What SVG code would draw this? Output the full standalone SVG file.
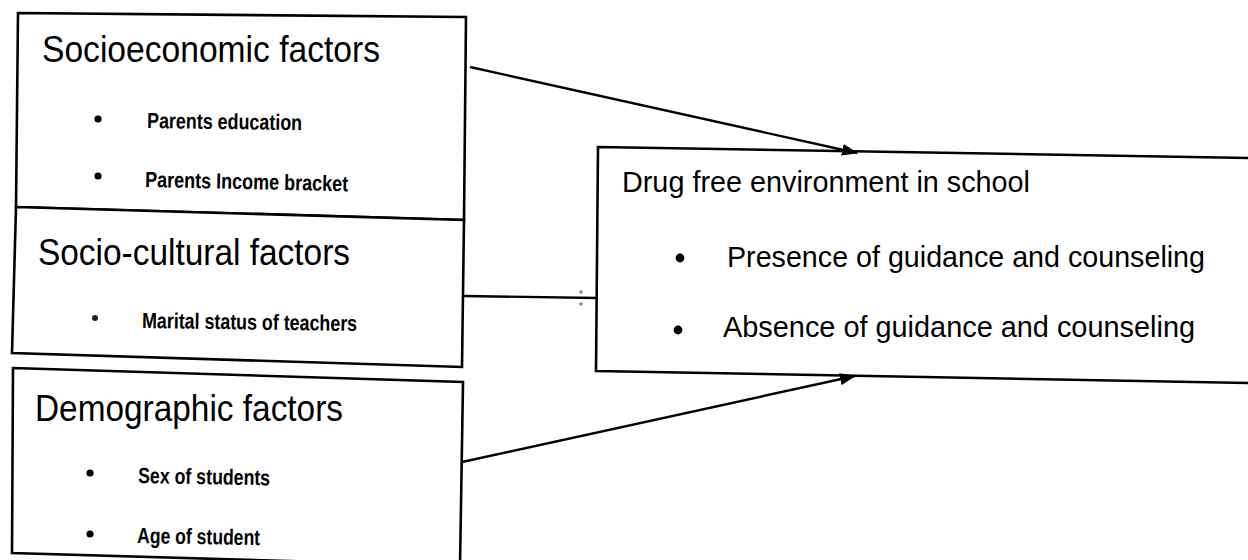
<svg xmlns="http://www.w3.org/2000/svg" width="1248" height="560" viewBox="0 0 1248 560">
<style>
.box{fill:#fff;stroke:#000;stroke-width:2.6;stroke-linejoin:miter}
.title{font-family:"Liberation Sans",Arial,sans-serif;font-size:37px;fill:#000}
.item{font-family:"Liberation Sans",Arial,sans-serif;font-size:22px;font-weight:bold;fill:#000}
.big{font-family:"Liberation Sans",Arial,sans-serif;font-size:30px;fill:#000}
.dot{fill:#000}
.conn{stroke:#000;stroke-width:2.4;fill:none}
</style>
<defs>
<marker id="ah" markerWidth="16" markerHeight="12" refX="15" refY="6" orient="auto" markerUnits="userSpaceOnUse">
<path d="M0,0 L16,6 L0,12 Z" fill="#000"/>
</marker>
</defs>
<rect width="1248" height="560" fill="#fff"/>
<g id="socioeconomic">
<path class="box" d="M18,13 L466,17 L464,220 L16,207 Z"/>
<text class="title" x="42" y="62" textLength="338" lengthAdjust="spacingAndGlyphs">Socioeconomic factors</text>
<circle class="dot" cx="98" cy="119" r="3.6"/>
<text class="item" x="147" y="128" textLength="155" lengthAdjust="spacingAndGlyphs" transform="rotate(0.8 147 128)">Parents education</text>
<circle class="dot" cx="98" cy="176" r="3.6"/>
<text class="item" x="145" y="187" textLength="203" lengthAdjust="spacingAndGlyphs" transform="rotate(1.2 145 187)">Parents Income bracket</text>
</g>
<g id="sociocultural">
<path class="box" d="M16,207 L464,220 L462,367 L12,353 Z"/>
<text class="title" x="38" y="265" textLength="312" lengthAdjust="spacingAndGlyphs">Socio-cultural factors</text>
<circle cx="95" cy="318" r="3" fill="#222"/>
<text class="item" x="142" y="328" textLength="215" lengthAdjust="spacingAndGlyphs" transform="rotate(0.8 142 328)">Marital status of teachers</text>
</g>
<g id="demographic">
<path class="box" d="M13,368 L463,382 L460,566 L12,553 Z"/>
<text class="title" x="35" y="421" textLength="308" lengthAdjust="spacingAndGlyphs">Demographic factors</text>
<circle class="dot" cx="90" cy="473" r="3.6"/>
<text class="item" x="138" y="483" textLength="132" lengthAdjust="spacingAndGlyphs" transform="rotate(1 138 483)">Sex of students</text>
<circle class="dot" cx="90" cy="534" r="3.6"/>
<text class="item" x="137" y="543" textLength="123" lengthAdjust="spacingAndGlyphs" transform="rotate(1 137 543)">Age of student</text>
</g>
<g id="drugfree">
<path class="box" d="M598,147 L1252,158 L1252,383 L596,371 Z"/>
<text class="big" x="622" y="192" textLength="408" lengthAdjust="spacingAndGlyphs">Drug free environment in school</text>
<circle class="dot" cx="680" cy="258" r="4.4"/>
<text class="big" x="727" y="267" textLength="478" lengthAdjust="spacingAndGlyphs">Presence of guidance and counseling</text>
<circle class="dot" cx="678" cy="330" r="4.4"/>
<text class="big" x="723" y="337" textLength="472" lengthAdjust="spacingAndGlyphs">Absence of guidance and counseling</text>
</g>
<g id="connectors">
<line class="conn" x1="470" y1="67" x2="857" y2="153" marker-end="url(#ah)"/>
<line class="conn" x1="464" y1="296" x2="597" y2="298"/>
<line class="conn" x1="462" y1="462" x2="855" y2="376" marker-end="url(#ah)"/>
<circle cx="581" cy="292" r="1.8" fill="#888"/>
<circle cx="581" cy="304" r="1.8" fill="#888"/>
</g>
</svg>
